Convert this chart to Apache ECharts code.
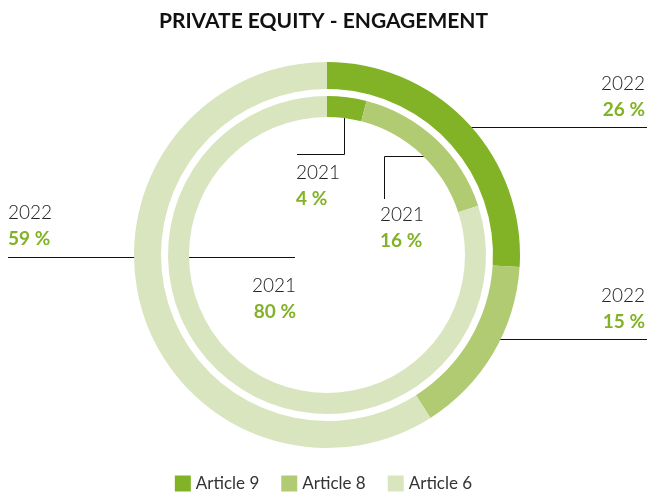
<!DOCTYPE html>
<html><head><meta charset="utf-8">
<script src="https://cdn.jsdelivr.net/npm/echarts@6/dist/echarts.min.js"></script>
<style>html,body{margin:0;padding:0;background:#fff}#c{width:647px;height:494px}</style>
</head><body><div id="c"></div>
<script>
var categories = ['Article 9', 'Article 8', 'Article 6'];
var years = ['2022', '2021'];
var values2022 = [26, 15, 59];
var values2021 = [4, 16, 80];
var colors = ['#82b226', '#b1cb73', '#d8e5bf'];

// label placement (annotation positions only)
var outerLayout = [
  {x: 645, y: 123, align: 'right', verticalAlign: 'bottom', line: [[450, 127.5], [550, 127.5], [647, 127.5]]},
  {x: 645, y: 335, align: 'right', verticalAlign: 'bottom', line: [[484, 339.5], [560, 339.5], [647, 339.5]]},
  {x: 8, y: 252, align: 'left', verticalAlign: 'bottom', line: [[146, 257.5], [80, 257.5], [8, 257.5]]}
];
var innerLayout = [
  {x: 296, y: 160, align: 'left', verticalAlign: 'top', line: [[344.5, 110], [344.5, 154.5], [297, 154.5]]},
  {x: 380, y: 202, align: 'left', verticalAlign: 'top', line: [[433, 156.5], [384.5, 156.5], [384.5, 199]]},
  {x: 296, y: 273, align: 'right', verticalAlign: 'top', line: [[181, 257.5], [240, 257.5], [295, 257.5]]}
];

var FONT = 'Lato, "Open Sans", sans-serif';
function mkData(vals) {
  return vals.map(function (v, i) {
    return {name: categories[i], value: v, itemStyle: {color: colors[i]}};
  });
}
function mkLabel(year) {
  return {
    show: true,
    position: 'outside',
    formatter: function (p) { return '{y|' + year + '}\n{p|' + p.value + ' %}'; },
    rich: {
      y: {fontFamily: FONT, fontSize: 19, fontWeight: 300, color: '#222', lineHeight: 26},
      p: {fontFamily: FONT, fontSize: 19, fontWeight: 'bold', color: '#82b226', lineHeight: 26}
    }
  };
}
function mkLayout(arr) {
  return function (params) {
    var L = arr[params.dataIndex];
    return {x: L.x, y: L.y, align: L.align, verticalAlign: L.verticalAlign, labelLinePoints: L.line};
  };
}

var chart = echarts.init(document.getElementById('c'), null, {renderer: 'canvas'});
chart.setOption({
  animation: false,
  title: {
    text: 'PRIVATE EQUITY - ENGAGEMENT', left: 'center', top: 6,
    textStyle: {fontFamily: FONT, fontSize: 21, fontWeight: 'bold', color: '#111'}
  },
  legend: {
    top: 470, left: 'center', icon: 'rect', itemWidth: 16, itemHeight: 16, itemGap: 22,
    data: categories,
    textStyle: {fontFamily: FONT, fontSize: 17, color: '#333'}
  },
  series: [
    {
      type: 'pie', name: years[0], center: [327, 255], radius: [166, 193],
      startAngle: 90, clockwise: true, silent: true,
      data: mkData(values2022),
      label: mkLabel(years[0]),
      labelLine: {show: true, lineStyle: {color: '#111', width: 1}},
      labelLayout: mkLayout(outerLayout)
    },
    {
      type: 'pie', name: years[1], center: [327, 255], radius: [138, 159],
      startAngle: 90, clockwise: true, silent: true,
      data: mkData(values2021),
      label: mkLabel(years[1]),
      labelLine: {show: true, lineStyle: {color: '#111', width: 1}},
      labelLayout: mkLayout(innerLayout)
    }
  ]
});
</script></body></html>
